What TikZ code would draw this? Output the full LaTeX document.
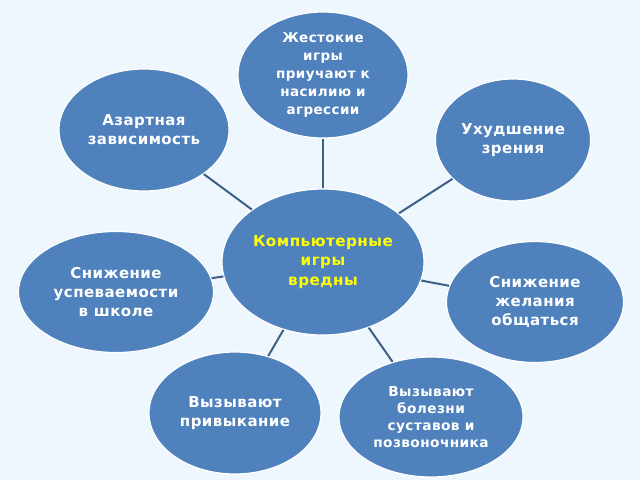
\documentclass[tikz,border=0pt]{standalone}
\usepackage{fontspec}
\setmainfont{DejaVu Sans}
\newfontfamily\bubfont{DejaVu Sans}[LetterSpace=3]
\usetikzlibrary{shapes.geometric}
\definecolor{bgc}{HTML}{EEF7FD}
\definecolor{ellc}{HTML}{4F81BD}
\definecolor{linec}{HTML}{3E5F85}
\definecolor{txty}{HTML}{FFFF00}
\begin{document}
\begin{tikzpicture}[x=1pt,y=-1pt,
  bubble/.style={ellipse,fill=ellc,draw=white,line width=1.2pt,inner sep=0pt,
    align=center,text=white,font=\bubfont\bfseries\fontsize{15}{19.2}\selectfont},
  link/.style={draw=linec,line width=2pt}]
\fill[bgc] (0,0) rectangle (640,480);
\useasboundingbox (0,0) rectangle (640,480);
\node[bubble,minimum width=202,minimum height=146,text=txty,font=\bubfont\bfseries\fontsize{15.2}{19.5}\selectfont] (c) at (323,262) {Компьютерные\\игры\\вредны};
\node[bubble,minimum width=170,minimum height=126,font=\bubfont\bfseries\fontsize{13.5}{17.8}\selectfont] (t) at (323,75) {Жестокие\\игры\\приучают к\\насилию и\\агрессии};
\node[bubble,minimum width=170,minimum height=122] (az) at (144,130) {Азартная\\зависимость};
\node[bubble,minimum width=155,minimum height=122] (uh) at (513,140) {Ухудшение\\зрения};
\node[bubble,minimum width=195,minimum height=121] (su) at (116,292) {Снижение\\успеваемости\\в школе};
\node[bubble,minimum width=177,minimum height=121] (sz) at (535,302) {Снижение\\ желания\\ общаться};
\node[bubble,minimum width=172,minimum height=122] (vp) at (235,413) {Вызывают\\привыкание};
\node[bubble,minimum width=184,minimum height=120,font=\bubfont\bfseries\fontsize{13.7}{17}\selectfont] (vb) at (431,417) {Вызывают\\болезни\\суставов и\\позвоночника};
\path[link] (c) -- (t);
\path[link] (c) -- (az);
\path[link] (c) -- (uh);
\path[link] (c) -- (su);
\path[link] (c) -- (sz);
\path[link] (c) -- (vp);
\path[link] (c) -- (vb);
\end{tikzpicture}
\end{document}
